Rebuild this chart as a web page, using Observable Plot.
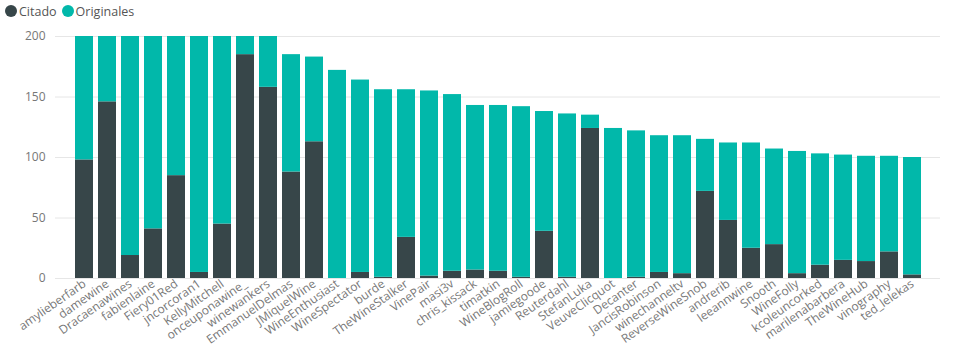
<!DOCTYPE html>
<html><head><meta charset="utf-8">
<script src="https://cdn.jsdelivr.net/npm/d3@7"></script>
<script src="https://cdn.jsdelivr.net/npm/@observablehq/plot@0.6"></script>
<style>
body{margin:0;background:#fff;font-family:"Open Sans",sans-serif;}
#legend{height:22px;display:flex;align-items:center;font-size:12.5px;color:#555;padding-left:5px;}
#legend .sw{display:inline-block;width:12px;height:12px;border-radius:50%;margin-right:2px;}
#legend .it{display:flex;align-items:center;margin-right:5px;}
</style></head>
<body>
<div id="legend"></div>
<div id="chart"></div>
<script>
const names = ["amylieberfarb","damewine","Dracaenawines","fabienlaine","Fiery01Red","jncorcoran1","KellyMitchell","onceuponawine_","winewankers","EmmanuelDelmas","JMiquelWine","WineEnthusiast","WineSpectator","burde","TheWineStalker","VinePair","masi3v","chris_kissack","timatkin","WineBlogRoll","jamiegoode","Reuterdahl","StefanLuka","VeuveClicquot","Decanter","JancisRobinson","winechanneltv","ReverseWineSnob","andrerib","leeannwine","Snooth","WineFolly","kcoleuncorked","marilenabarbera","TheWineHub","vinography","ted_lelekas"];
const citado = [98,146,19,41,85,5,45,185,158,88,113,0,5,1,34,2,6,7,6,1,39,1,124,0,1,5,4,72,48,25,28,4,11,15,14,22,3];
const originales = [102,54,181,159,115,195,155,15,42,97,70,172,159,155,122,153,146,136,137,141,99,135,11,124,121,113,114,43,64,87,79,101,92,87,87,79,97];
const series = ["Citado","Originales"];
const colors = ["#374649","#01B8AA"];
const yTicks = [0,50,100,150,200];

const data = [];
names.forEach((n,i)=>{
  data.push({name:n, serie:series[0], value:citado[i]});
  data.push({name:n, serie:series[1], value:originales[i]});
});

const legend = document.getElementById("legend");
series.forEach((s,i)=>{
  const it = document.createElement("span"); it.className="it";
  const sw = document.createElement("span"); sw.className="sw"; sw.style.background=colors[i];
  it.appendChild(sw); it.appendChild(document.createTextNode(s));
  legend.appendChild(it);
});

const chart = Plot.plot({
  width: 956, height: 332,
  marginLeft: 55, marginRight: 16, marginTop: 14, marginBottom: 76,
  style: {fontFamily: "'Open Sans', sans-serif", fontSize: "12px", color: "#777"},
  x: {domain: names, paddingInner: 0.22, paddingOuter: 0.45, label: null, tickSize: 0, tickRotate: -35, tickPadding: 4},
  y: {domain: [0,200], ticks: yTicks, label: null, tickSize: 0, tickPadding: 10},
  color: {domain: series, range: colors},
  marks: [
    Plot.gridY(yTicks, {stroke: "#e6e6e6", strokeOpacity: 1}),
    Plot.barY(data, {x: "name", y: "value", fill: "serie", clip: true}),
  ]
});
document.getElementById("chart").appendChild(chart);
</script>
</body></html>
